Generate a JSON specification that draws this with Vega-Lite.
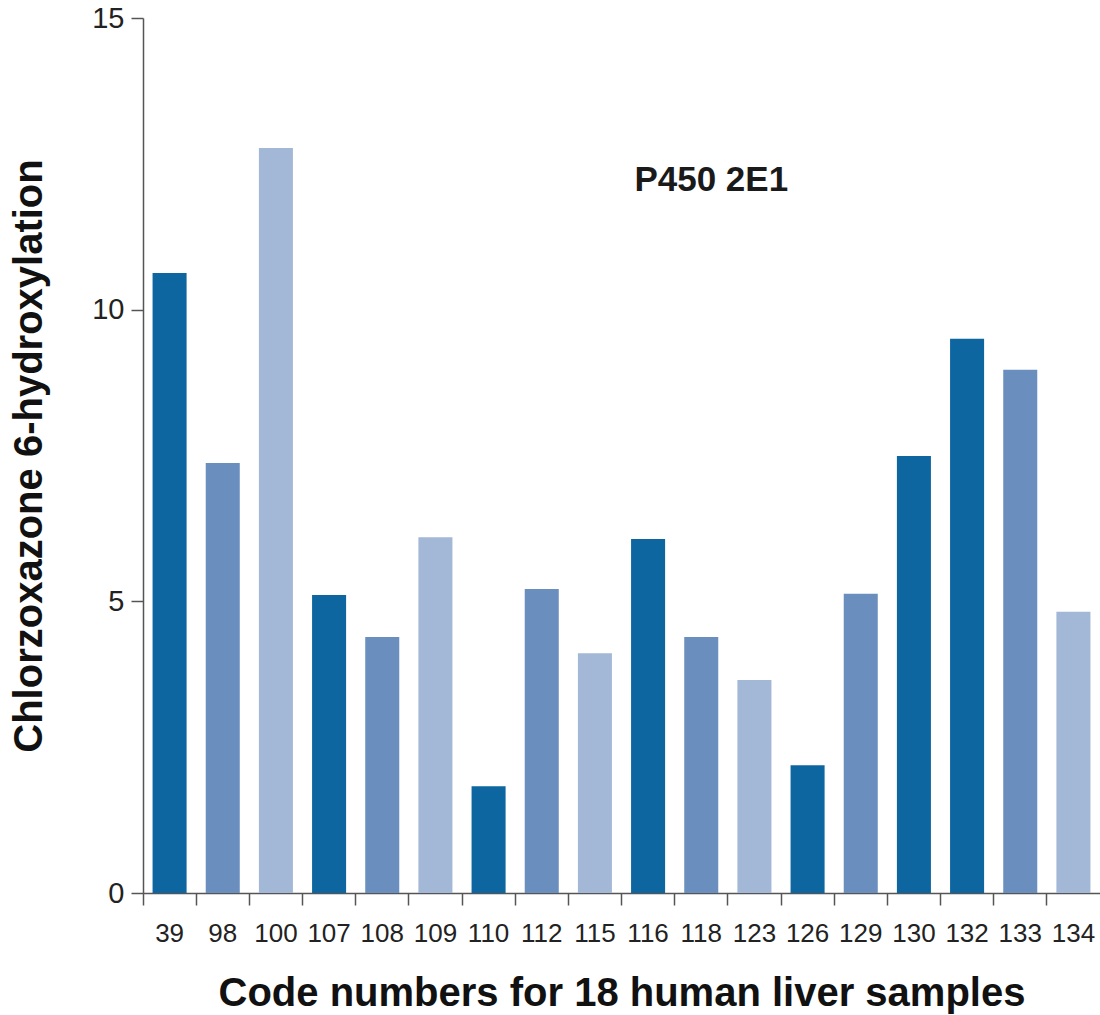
{
  "$schema": "https://vega.github.io/schema/vega-lite/v6.json",
  "width": 957,
  "height": 875,
  "autosize": "none",
  "padding": {"left": 143, "top": 18, "right": 0, "bottom": 122},
  "background": "white",
  "datasets": {
    "samples": [
      {"code": "39", "activity": 10.63, "shade": "dark"},
      {"code": "98", "activity": 7.37, "shade": "medium"},
      {"code": "100", "activity": 12.77, "shade": "light"},
      {"code": "107", "activity": 5.11, "shade": "dark"},
      {"code": "108", "activity": 4.39, "shade": "medium"},
      {"code": "109", "activity": 6.1, "shade": "light"},
      {"code": "110", "activity": 1.83, "shade": "dark"},
      {"code": "112", "activity": 5.21, "shade": "medium"},
      {"code": "115", "activity": 4.11, "shade": "light"},
      {"code": "116", "activity": 6.07, "shade": "dark"},
      {"code": "118", "activity": 4.39, "shade": "medium"},
      {"code": "123", "activity": 3.65, "shade": "light"},
      {"code": "126", "activity": 2.19, "shade": "dark"},
      {"code": "129", "activity": 5.13, "shade": "medium"},
      {"code": "130", "activity": 7.49, "shade": "dark"},
      {"code": "132", "activity": 9.5, "shade": "dark"},
      {"code": "133", "activity": 8.97, "shade": "medium"},
      {"code": "134", "activity": 4.82, "shade": "light"}
    ],
    "label": [
      {"code": "118", "activity": 12.22, "text": "P450 2E1"}
    ]
  },
  "layer": [
    {
      "data": {"name": "samples"},
      "mark": {"type": "bar", "width": {"band": 0.64}},
      "encoding": {
        "x": {
          "field": "code",
          "type": "ordinal",
          "sort": null,
          "scale": {"paddingInner": 0, "paddingOuter": 0},
          "axis": {
            "title": "Code numbers for 18 human liver samples",
            "labelAngle": 0,
            "bandPosition": 0,
            "labelBound": false,
            "tickSize": 12,
            "labelPadding": 15,
            "labelFontSize": 26,
            "titlePadding": 27
          }
        },
        "y": {
          "field": "activity",
          "type": "quantitative",
          "scale": {"domain": [0, 15], "nice": false},
          "axis": {
            "title": "Chlorzoxazone 6-hydroxylation",
            "values": [0, 5, 10, 15],
            "format": "d",
            "tickSize": 12,
            "labelPadding": 7,
            "labelFontSize": 29,
            "titlePadding": 42,
            "grid": false
          }
        },
        "color": {
          "field": "shade",
          "type": "nominal",
          "scale": {
            "domain": ["dark", "medium", "light"],
            "range": ["#0d66a0", "#6a8fbe", "#a3b7d6"]
          },
          "legend": null
        }
      }
    },
    {
      "data": {"name": "label"},
      "mark": {
        "type": "text",
        "font": "Liberation Sans",
        "fontWeight": "bold",
        "fontSize": 35,
        "color": "#1a1a1a",
        "baseline": "middle",
        "dx": 10
      },
      "encoding": {
        "x": {"field": "code", "type": "ordinal", "sort": null},
        "y": {"field": "activity", "type": "quantitative"},
        "text": {"field": "text"}
      }
    }
  ],
  "config": {
    "view": {"stroke": null},
    "axis": {
      "domainColor": "#555555",
      "domainWidth": 1.5,
      "tickColor": "#555555",
      "tickWidth": 1.5,
      "labelFont": "Liberation Sans",
      "labelColor": "#222222",
      "titleFont": "Liberation Sans",
      "titleFontWeight": "bold",
      "titleFontSize": 40,
      "titleColor": "#111111"
    }
  }
}
